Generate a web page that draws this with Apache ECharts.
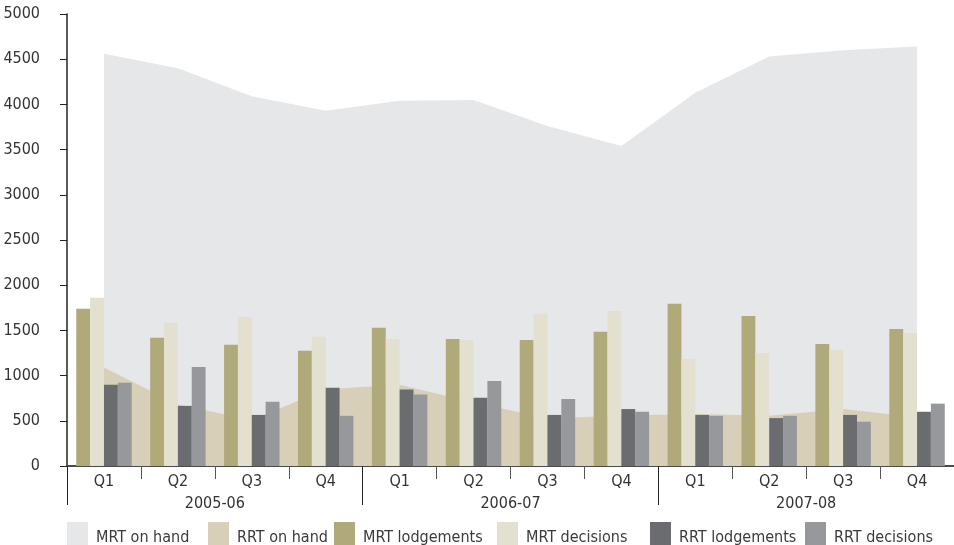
<!DOCTYPE html>
<html>
<head>
<meta charset="utf-8">
<script src="https://cdn.jsdelivr.net/npm/echarts@6/dist/echarts.min.js"></script>
<style>
  html, body { margin: 0; padding: 0; background: #fff; }
  #chart { width: 954px; height: 545px; }
</style>
</head>
<body>
<div id="chart"></div>
<script>
// 季度與年度標籤
const quarters = ["Q1", "Q2", "Q3", "Q4", "Q1", "Q2", "Q3", "Q4", "Q1", "Q2", "Q3", "Q4"]
const years = ["2005-06", "2006-07", "2007-08"]

// 數據
const mrtOnHand = [4560, 4400, 4090, 3930, 4040, 4050, 3760, 3540, 4130, 4530, 4600, 4640]
const rrtOnHand = [1090, 680, 510, 850, 900, 705, 525, 560, 575, 556, 630, 540]
const mrtLodgements = [1740, 1420, 1340, 1275, 1530, 1405, 1395, 1485, 1795, 1660, 1350, 1515]
const mrtDecisions = [1860, 1585, 1650, 1430, 1405, 1395, 1685, 1715, 1185, 1250, 1285, 1470]
const rrtLodgements = [900, 665, 565, 865, 845, 755, 565, 630, 565, 530, 565, 600]
const rrtDecisions = [920, 1095, 710, 555, 790, 940, 740, 600, 555, 555, 490, 690]

const seriesNames = ["MRT on hand", "RRT on hand", "MRT lodgements", "MRT decisions", "RRT lodgements", "RRT decisions"]

const fontFamily = '"DejaVu Sans Condensed", "Liberation Sans Narrow", sans-serif'

const chart = echarts.init(document.getElementById("chart"))

const areaSeries = (name, data, color) => ({
    name: name,
    type: "line",
    data: data,
    z: 1,
    showSymbol: false,
    symbol: "none",
    lineStyle: { width: 0 },
    itemStyle: { color: color },
    areaStyle: { color: color, opacity: 1 },
})

const barSeries = (name, data, color) => ({
    name: name,
    type: "bar",
    data: data,
    z: 2,
    barGap: "0%",
    barCategoryGap: "25%",
    itemStyle: { color: color },
})

// 每個圖例項目單獨放，位置對齊原圖
const legendLeft = [67, 208, 334, 497, 650, 805]
const legends = seriesNames.map((name, i) => ({
    left: legendLeft[i],
    top: 522,
    icon: "rect",
    itemWidth: 21,
    itemHeight: 23,
    itemGap: 0,
    padding: 0,
    formatter: "{t|{name}}",
    textStyle: {
        fontFamily: fontFamily,
        fontSize: 16,
        color: "#3a3a3a",
        rich: { t: { fontFamily: fontFamily, fontSize: 16, color: "#3a3a3a", padding: [9, 0, 0, 3] } },
    },
    data: [name],
}))

const option = {
    animation: false,
    textStyle: { fontFamily: fontFamily },
    grid: { left: 67, right: 0, top: 14, bottom: 79, outerBoundsMode: "none", containLabel: false },
    legend: legends,
    xAxis: [
        {
            type: "category",
            data: quarters,
            axisLine: { lineStyle: { color: "#4a4a4a", width: 2 } },
            axisTick: { show: true, length: 13, lineStyle: { color: "#555", width: 1 } },
            axisLabel: { color: "#333", fontSize: 16, margin: 8, fontFamily: fontFamily },
        },
        {
            type: "category",
            data: years,
            position: "bottom",
            axisLine: { show: false },
            axisTick: { show: true, length: 39, lineStyle: { color: "#222", width: 1 } },
            axisLabel: { color: "#333", fontSize: 16, margin: 30, fontFamily: fontFamily },
        },
    ],
    yAxis: {
        type: "value",
        min: 0,
        max: 5000,
        interval: 500,
        splitLine: { show: false },
        axisLine: { show: true, lineStyle: { color: "#222", width: 1.5 } },
        axisTick: { show: true, length: 7, lineStyle: { color: "#222" } },
        axisLabel: { color: "#333", fontSize: 16, margin: 27, fontFamily: fontFamily, formatter: v => String(v) },
    },
    series: [
        areaSeries(seriesNames[0], mrtOnHand, "#e6e7e8"),
        areaSeries(seriesNames[1], rrtOnHand, "#d7cfb7"),
        barSeries(seriesNames[2], mrtLodgements, "#b0a97a"),
        barSeries(seriesNames[3], mrtDecisions, "#e3e0cf"),
        barSeries(seriesNames[4], rrtLodgements, "#6b6c70"),
        barSeries(seriesNames[5], rrtDecisions, "#97989b"),
    ],
}

chart.setOption(option)
</script>
</body>
</html>
